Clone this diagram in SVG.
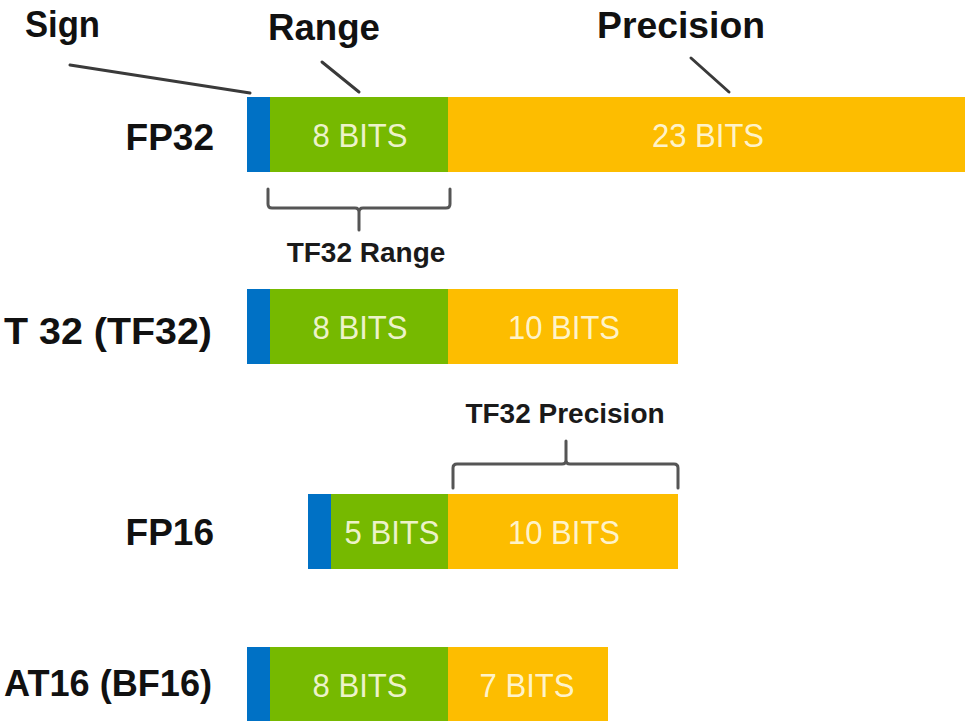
<svg xmlns="http://www.w3.org/2000/svg" width="965" height="721" viewBox="0 0 965 721">
  <style>
    .head { font-family: "Liberation Sans", Arial, sans-serif; font-weight: bold; font-size: 36px; fill: #111; }
    .row { font-family: "Liberation Sans", Arial, sans-serif; font-weight: bold; font-size: 37px; fill: #111; text-anchor: end; }
    .note { font-family: "Liberation Sans", Arial, sans-serif; font-weight: bold; font-size: 28px; fill: #1a1a1a; text-anchor: middle; }
    .bits { font-family: "Liberation Sans", Arial, sans-serif; font-size: 33px; fill: #fffbe6; fill-opacity: 0.9; text-anchor: middle; }
    .sign { fill: #0071c5; }
    .exp { fill: #76b900; }
    .man { fill: #fdbd00; }
    .lead { stroke: #3a3a3a; stroke-width: 3; fill: none; stroke-linecap: round; }
    .brace { stroke: #555; stroke-width: 3; fill: none; stroke-linejoin: round; stroke-linecap: round; }
  </style>
  <rect width="965" height="721" fill="#ffffff"/>

  <!-- field headings -->
  <g id="headings">
    <text class="head" x="25" y="37" textLength="75" lengthAdjust="spacingAndGlyphs">Sign</text>
    <text class="head" x="268" y="40" textLength="112" lengthAdjust="spacingAndGlyphs">Range</text>
    <text class="head" x="597" y="38" textLength="168" lengthAdjust="spacingAndGlyphs">Precision</text>
  </g>

  <!-- leader lines and braces -->
  <g id="connectors">
    <line class="lead" x1="70" y1="65" x2="250" y2="93"/>
    <line class="lead" x1="322" y1="62" x2="359" y2="92"/>
    <line class="lead" x1="691" y1="58" x2="729" y2="92"/>
    <path class="brace" d="M268 189 V204 Q268 208 272 208 H355 Q359 208 359 212 V230 M359 212 Q359 208 363 208 H446 Q450 208 450 204 V189"/>
    <path class="brace" d="M453 488 V468 Q453 464 457 464 H562 Q566 464 566 460 V441 M566 460 Q566 464 570 464 H674 Q678 464 678 468 V488"/>
  </g>

  <!-- FP32 -->
  <g id="fp32">
    <text class="row" x="214" y="150">FP32</text>
    <rect class="sign" x="247" y="97" width="23" height="75"/>
    <rect class="exp" x="270" y="97" width="178" height="75"/>
    <rect class="man" x="448" y="97" width="517" height="75"/>
    <text class="bits" x="360" y="147" textLength="95" lengthAdjust="spacingAndGlyphs">8 BITS</text>
    <text class="bits" x="708" y="147" textLength="112" lengthAdjust="spacingAndGlyphs">23 BITS</text>
  </g>

  <text id="tf32-range" class="note" x="366" y="262">TF32 Range</text>

  <!-- TF32 -->
  <g id="tf32">
    <text class="row" x="212" y="344" textLength="208" lengthAdjust="spacingAndGlyphs">T 32 (TF32)</text>
    <rect class="sign" x="247" y="289" width="23" height="75"/>
    <rect class="exp" x="270" y="289" width="178" height="75"/>
    <rect class="man" x="448" y="289" width="230" height="75"/>
    <text class="bits" x="360" y="339" textLength="95" lengthAdjust="spacingAndGlyphs">8 BITS</text>
    <text class="bits" x="564" y="339" textLength="112" lengthAdjust="spacingAndGlyphs">10 BITS</text>
  </g>

  <text id="tf32-precision" class="note" x="565" y="423">TF32 Precision</text>

  <!-- FP16 -->
  <g id="fp16">
    <text class="row" x="214" y="545">FP16</text>
    <rect class="sign" x="308" y="494" width="23" height="75"/>
    <rect class="exp" x="331" y="494" width="117" height="75"/>
    <rect class="man" x="448" y="494" width="230" height="75"/>
    <text class="bits" x="392" y="544" textLength="95" lengthAdjust="spacingAndGlyphs">5 BITS</text>
    <text class="bits" x="564" y="544" textLength="112" lengthAdjust="spacingAndGlyphs">10 BITS</text>
  </g>

  <!-- BF16 -->
  <g id="bf16">
    <text class="row" x="212" y="696" textLength="208" lengthAdjust="spacingAndGlyphs">AT16 (BF16)</text>
    <rect class="sign" x="247" y="647" width="23" height="75"/>
    <rect class="exp" x="270" y="647" width="178" height="75"/>
    <rect class="man" x="448" y="647" width="160" height="75"/>
    <text class="bits" x="360" y="697" textLength="95" lengthAdjust="spacingAndGlyphs">8 BITS</text>
    <text class="bits" x="527" y="697" textLength="95" lengthAdjust="spacingAndGlyphs">7 BITS</text>
  </g>
</svg>
